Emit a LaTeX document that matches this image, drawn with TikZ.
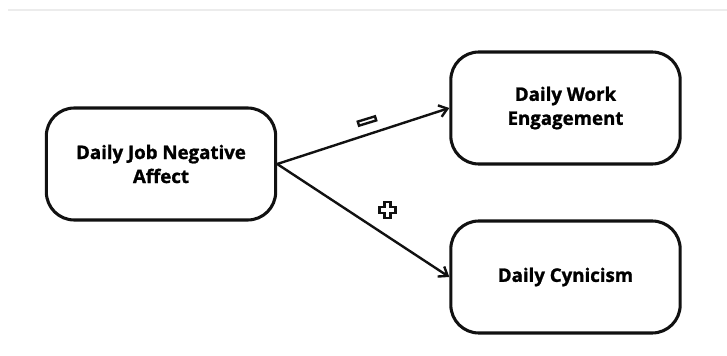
\documentclass[tikz,border=0pt]{standalone}
\usepackage{fontspec}
\setmainfont{Open Sans}[BoldFeatures={FakeBold=1.2}]
\usetikzlibrary{
  arrows.meta,
  calc,
  positioning
}
\definecolor{ink}{HTML}{111111}
\definecolor{paper}{HTML}{FFFFFF}
\definecolor{rule}{HTML}{ECECEC}
\tikzset{
  construct/.style={
    draw=ink,
    fill=paper,
    line width=2.3pt,
    rounded corners=21pt,
    minimum width=172pt,
    minimum height=84pt,
    align=center,
    font=\bfseries\fontsize{14}{18}\selectfont
  },
  effect/.style={
    -{Straight Barb[length=6pt,width=9pt]},
    line width=1.8pt,
    draw=ink
  },
  signmark/.style={
    draw=ink,
    fill=paper,
    line width=1.8pt
  }
}

\begin{document}
\begin{tikzpicture}[x=0.75pt,y=-0.75pt]
  \useasboundingbox (0,0) rectangle (727,356);
  % Faint rule along the top.
  \draw[rule, line width=1pt] (8,10) -- (727,10);

  % Constructs.
  \node[construct] (affect) at (161,164) {Daily Job Negative\\Affect};
  \node[construct] (engage) at (565.5,108) {Daily Work\\Engagement};
  \node[construct] (cynic) at (565.5,277) {Daily Cynicism};

  % Effects.
  \draw[effect] (affect.east) -- (engage.west);
  \draw[effect] (affect.east) -- (cynic.west);

  % Signs of the effects.
  \node[signmark, minimum width=13.5pt, minimum height=3.2pt, inner sep=0pt,
    rotate=17] (minus) at (367,121) {};
  \coordinate (plus) at (387.5,210);
  \draw[signmark] ($(plus)+(-3,-8)$) -- ++(6,0) -- ++(0,5) -- ++(5,0)
    -- ++(0,6) -- ++(-5,0) -- ++(0,5) -- ++(-6,0) -- ++(0,-5)
    -- ++(-5,0) -- ++(0,-6) -- ++(5,0) -- cycle;
\end{tikzpicture}
\end{document}
